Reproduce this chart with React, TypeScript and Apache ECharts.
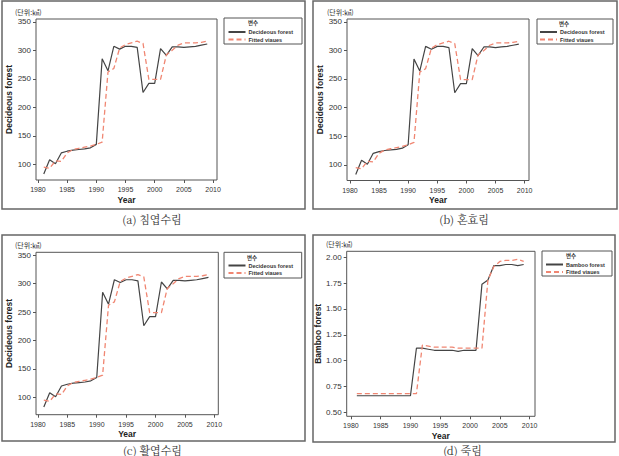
import { useEffect, useRef } from "react";
import * as echarts from "echarts";

// Annual observations 1981–2009
const years = [
  1981, 1982, 1983, 1984, 1985, 1986, 1987, 1988, 1989, 1990,
  1991, 1992, 1993, 1994, 1995, 1996, 1997, 1998, 1999, 2000,
  2001, 2002, 2003, 2004, 2005, 2006, 2007, 2008, 2009,
];

const deciduous = [
  83, 108, 101, 120, 123, 125, 126, 127, 129, 135,
  285, 264, 307, 302, 307, 307, 305, 226, 242, 242,
  303, 291, 306, 306, 305, 306, 307, 309, 311,
];
const deciduousFitted = [
  95, 93, 106, 105, 120, 126, 128, 130, 132, 135,
  139, 262, 268, 304, 310, 313, 316, 312, 249, 249,
  249, 292, 300, 309, 313, 313, 313, 314, 316,
];

const bamboo = [
  0.66, 0.66, 0.66, 0.66, 0.66, 0.66, 0.66, 0.66, 0.66, 0.66,
  1.12, 1.12, 1.11, 1.10, 1.10, 1.10, 1.10, 1.09, 1.10, 1.10,
  1.10, 1.74, 1.78, 1.92, 1.92, 1.93, 1.93, 1.92, 1.93,
];
const bambooFitted = [
  0.68, 0.68, 0.68, 0.68, 0.68, 0.68, 0.68, 0.68, 0.68, 0.68,
  0.68, 1.15, 1.14, 1.13, 1.13, 1.13, 1.13, 1.12, 1.12, 1.12,
  1.12, 1.12, 1.78, 1.91, 1.96, 1.97, 1.97, 1.98, 1.96,
];

const yearTicks = [1980, 1985, 1990, 1995, 2000, 2005, 2010];
const deciduousTicks = [100, 150, 200, 250, 300, 350];
const bambooTicks = [0.5, 0.75, 1.0, 1.25, 1.5, 1.75, 2.0];

const captions = ["(a) 침엽수림", "(b) 혼효림", "(c) 활엽수림", "(d) 죽림"];
const unitLabel = "(단위:㎢)";
const legendTitle = "변수";
const fittedName = "Fitted viaues";
const deciduousName = "Decideous forest";
const bambooName = "Bamboo forest";

const SANS = "'Liberation Sans', Arial, sans-serif";
const KR = "'Noto Serif CJK KR', 'Noto Sans CJK KR', serif";
const KR_SANS = "'Noto Sans CJK KR', sans-serif";
const SOLID = "#444";
const DASH = "#f08672";
const FRAME = "#555";

type Panel = {
  grid: { left: number; top: number; width: number; height: number };
  xRange: [number, number];
  yRange: [number, number];
  yTicks: number[];
  yName: string;
  digits: number;
  actual: number[];
  fitted: number[];
  seriesName: string;
  box: { x: number; y: number; w: number; h: number };
  legend: { x: number; y: number; textX: number };
  frame: { x: number; y: number; w: number; h: number };
  unit: { x: number; y: number };
  caption: { x: number; y: number };
};

const panels: Panel[] = [
  {
    grid: { left: 36, top: 19, width: 181, height: 161 },
    xRange: [1979.67, 2010.67],
    yRange: [72.5, 354.9],
    yTicks: deciduousTicks,
    yName: "Decideous forest",
    digits: 0,
    actual: deciduous,
    fitted: deciduousFitted,
    seriesName: deciduousName,
    box: { x: 224, y: 18, w: 78, h: 26 },
    legend: { x: 227.5, y: 29, textX: 248 },
    frame: { x: 2, y: 1, w: 303, h: 208 },
    unit: { x: 15, y: 12 },
    caption: { x: 152, y: 219 },
  },
  {
    grid: { left: 347, top: 19, width: 182, height: 161.5 },
    xRange: [1979.5, 2010.75],
    yRange: [72.5, 354.9],
    yTicks: deciduousTicks,
    yName: "Decideous forest",
    digits: 0,
    actual: deciduous,
    fitted: deciduousFitted,
    seriesName: deciduousName,
    box: { x: 537, y: 19, w: 76, h: 25 },
    legend: { x: 539, y: 29, textX: 559 },
    frame: { x: 313, y: 1, w: 304, h: 208 },
    unit: { x: 327, y: 12 },
    caption: { x: 464, y: 219 },
  },
  {
    grid: { left: 36, top: 252.3, width: 182.3, height: 162.4 },
    xRange: [1979.67, 2010.67],
    yRange: [69.4, 355.3],
    yTicks: deciduousTicks,
    yName: "Decideous forest",
    digits: 0,
    actual: deciduous,
    fitted: deciduousFitted,
    seriesName: deciduousName,
    box: { x: 224, y: 252.3, w: 77.7, h: 25.7 },
    legend: { x: 227.5, y: 262.5, textX: 247 },
    frame: { x: 2, y: 235, w: 303, h: 206 },
    unit: { x: 15, y: 244.7 },
    caption: { x: 152.5, y: 449.5 },
  },
  {
    grid: { left: 346.7, top: 251.3, width: 188.3, height: 165 },
    xRange: [1979.3, 2010.9],
    yRange: [0.461, 2.058],
    yTicks: bambooTicks,
    yName: "Bamboo forest",
    digits: 2,
    actual: bamboo,
    fitted: bambooFitted,
    seriesName: bambooName,
    box: { x: 542, y: 251, w: 70, h: 25 },
    legend: { x: 545, y: 261.5, textX: 566 },
    frame: { x: 313, y: 235, w: 302, h: 207 },
    unit: { x: 326, y: 244 },
    caption: { x: 462.5, y: 449.5 },
  },
];

const pairs = (vals: number[]) => years.map((y, i) => [y, vals[i]]);

export default function App() {
  const ref = useRef<HTMLDivElement>(null);

  useEffect(() => {
    if (!ref.current) return;
    const chart = echarts.init(ref.current, null, { renderer: "svg" });

    const grids: any[] = [];
    const xAxes: any[] = [];
    const yAxes: any[] = [];
    const series: any[] = [];
    const legends: any[] = [];
    const graphics: any[] = [];

    panels.forEach((p, i) => {
      grids.push({ ...p.grid, show: true, borderColor: FRAME, borderWidth: 1, backgroundColor: "#fff" });
      xAxes.push({
        type: "value",
        gridIndex: i,
        min: p.xRange[0],
        max: p.xRange[1],
        name: "Year",
        nameLocation: "middle",
        nameGap: 15,
        nameTextStyle: { fontFamily: SANS, fontWeight: "bold", fontSize: 8.5, color: "#222" },
        axisLine: { show: false },
        splitLine: { show: false },
        axisTick: { show: true, length: 3, customValues: yearTicks, lineStyle: { color: FRAME } },
        axisLabel: {
          customValues: yearTicks,
          fontFamily: SANS,
          fontSize: 7,
          color: "#333",
          margin: 6,
          formatter: (v: number) => String(v),
        },
      });
      yAxes.push({
        type: "value",
        gridIndex: i,
        min: p.yRange[0],
        max: p.yRange[1],
        name: p.yName,
        nameLocation: "middle",
        nameRotate: 90,
        nameGap: 22,
        nameTextStyle: { fontFamily: SANS, fontWeight: "bold", fontSize: 8.5, color: "#222" },
        axisLine: { show: false },
        splitLine: { show: false },
        axisTick: { show: true, length: 3, customValues: p.yTicks, lineStyle: { color: FRAME } },
        axisLabel: {
          customValues: p.yTicks,
          fontFamily: SANS,
          fontSize: 8,
          color: "#333",
          margin: 5,
          formatter: (v: number) => v.toFixed(p.digits),
        },
      });
      series.push({
        type: "line",
        name: p.seriesName,
        xAxisIndex: i,
        yAxisIndex: i,
        data: pairs(p.actual),
        symbol: "none",
        lineStyle: { color: SOLID, width: 1.2 },
        itemStyle: { color: SOLID },
      });
      series.push({
        type: "line",
        name: fittedName,
        xAxisIndex: i,
        yAxisIndex: i,
        data: pairs(p.fitted),
        symbol: "none",
        lineStyle: { color: DASH, width: 1.3, type: [5, 3] },
        itemStyle: { color: DASH },
      });
      legends.push({
        data: [p.seriesName, fittedName],
        orient: "vertical",
        left: p.legend.x,
        top: p.legend.y,
        padding: 0,
        itemWidth: 17,
        itemHeight: 6,
        itemGap: 1.5,
        selectedMode: false,
        // keep only the line sample in each legend key
        itemStyle: { color: "transparent", borderColor: "transparent", borderWidth: 0, opacity: 0 },
        textStyle: { fontFamily: SANS, fontSize: 5.5, fontWeight: "bold", color: "#333", padding: [0, 0, 0, -2] },
      });
      graphics.push({
        type: "rect",
        shape: { x: p.box.x, y: p.box.y, width: p.box.w, height: p.box.h },
        style: { fill: "none", stroke: FRAME, lineWidth: 1 },
        silent: true,
      });
      graphics.push({
        type: "text",
        left: p.legend.textX,
        top: p.box.y + 2.5,
        style: {
          text: legendTitle,
          fontFamily: KR_SANS,
          fontSize: 5.5,
          fontWeight: "bold",
          fill: "#333",
        },
      });
      graphics.push({
        type: "rect",
        shape: { x: p.frame.x, y: p.frame.y, width: p.frame.w, height: p.frame.h },
        style: { fill: "none", stroke: "#666", lineWidth: 1.5 },
        silent: true,
      });
      graphics.push({
        type: "text",
        x: p.unit.x,
        y: p.unit.y,
        style: {
          text: unitLabel,
          fontFamily: KR_SANS,
          fontSize: 7,
          fill: "#333",
          verticalAlign: "middle",
        },
      });
      graphics.push({
        type: "text",
        x: p.caption.x,
        y: p.caption.y,
        style: {
          text: captions[i],
          fontFamily: KR,
          fontSize: 11,
          fill: "#333",
          align: "center",
          verticalAlign: "middle",
        },
      });
    });

    chart.setOption({
      animation: false,
      backgroundColor: "#fff",
      grid: grids,
      xAxis: xAxes,
      yAxis: yAxes,
      series,
      legend: legends,
      graphic: graphics,
    });

    return () => chart.dispose();
  }, []);

  return (
    <div
      ref={ref}
      style={{ position: "absolute", left: 0, top: 0, width: 619, height: 456 }}
    />
  );
}
